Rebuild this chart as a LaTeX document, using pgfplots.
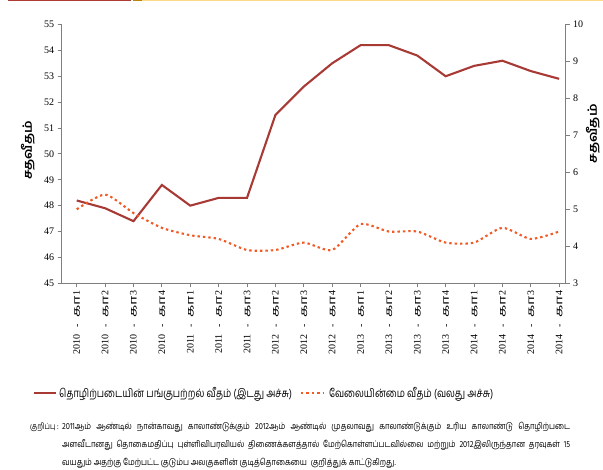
\documentclass[border=0pt]{standalone}
\usepackage{pgfplots}
\pgfplotsset{compat=1.18}
\usepackage{fontspec}
\setmainfont{Liberation Serif}
\newfontfamily\tam[Script=Tamil]{Hind Madurai}
\newfontfamily\tamc[Script=Tamil, FakeStretch=0.8]{Hind Madurai}
\newfontfamily\tamn[Script=Tamil, FakeStretch=0.84]{Hind Madurai}
\newfontfamily\tamw[Script=Tamil, FakeStretch=1.15]{Hind Madurai}
\newfontfamily\tamx[Script=Tamil, FakeStretch=1.6]{Hind Madurai}
\definecolor{lfpr}{HTML}{A83A36}
\definecolor{unemp}{HTML}{F15A24}
\definecolor{axgray}{HTML}{7F7F7F}
\definecolor{topred}{HTML}{B03A36}
\definecolor{topbrown}{HTML}{B8860B}
\definecolor{topyel}{HTML}{FDD98A}
\pgfplotstableread{
x y
0 48.2
1 47.9
2 47.4
3 48.8
4 48.0
5 48.3
6 48.3
7 51.5
8 52.6
9 53.5
10 54.2
11 54.2
12 53.8
13 53.0
14 53.4
15 53.6
16 53.2
17 52.9
}\lfprtable
\pgfplotstableread{
x y
0 5.0
1 5.4
2 4.9
3 4.5
4 4.3
5 4.2
6 3.9
7 3.9
8 4.1
9 3.9
10 4.6
11 4.4
12 4.4
13 4.1
14 4.1
15 4.5
16 4.2
17 4.4
}\unemptable
\newcommand{\ql}[2]{#1\ \ \,-\ \ \,{\tamx\fontsize{10}{11}\selectfont கா}#2}
\begin{document}
\begin{tikzpicture}
\useasboundingbox (0pt,0pt) rectangle (603pt,470pt);
\fill[topred] (8pt,469pt) rectangle (131pt,470pt);
\fill[topbrown] (133pt,469pt) rectangle (142pt,470pt);
\fill[topyel] (142pt,469pt) rectangle (603pt,470pt);
\pgfplotsset{
  common/.style={
    at={(61.7pt,186.7pt)}, anchor=south west,
    scale only axis, width=504pt, height=258.8pt,
    xmin=-0.53, xmax=17.23,
    tick align=outside,
    major tick length=4pt,
    axis line style={axgray, line width=0.8pt},
    tick style={axgray, line width=0.8pt},
    /pgf/number format/assume math mode=true,
    ticklabel style={font=\fontsize{10}{12}\selectfont, black},
  }
}
\begin{axis}[common,
  axis y line*=left, axis x line*=bottom,
  ymin=45, ymax=55, ytick={45,46,...,55},
  xtick={0,...,17},
  xticklabels={\ql{2010}{1},\ql{2010}{2},\ql{2010}{3},\ql{2010}{4},\ql{2011}{1},\ql{2011}{2},\ql{2011}{3},\ql{2012}{2},\ql{2012}{3},\ql{2012}{4},\ql{2013}{1},\ql{2013}{2},\ql{2013}{3},\ql{2013}{4},\ql{2014}{1},\ql{2014}{2},\ql{2014}{3},\ql{2014}{4}},
  xticklabel style={rotate=90, anchor=east, font=\fontsize{10}{11}\selectfont},
  ylabel={\tamw\bfseries சதவீதம்},
  ylabel style={at={(axis description cs:-0.067,0.514)}, anchor=center, font=\fontsize{12}{14}\selectfont},
]
\addplot[lfpr, line width=2.1pt] table[x=x,y=y] {\lfprtable};
\end{axis}
\begin{axis}[common,
  axis y line*=right, axis x line=none,
  ymin=3, ymax=10, ytick={3,4,...,10},
  ylabel={\tamw\bfseries சதவீதம்},
  ylabel style={at={(axis description cs:1.054,0.577)}, anchor=center, rotate=0, font=\fontsize{12}{14}\selectfont},
  legend columns=2,
  legend style={draw=none, fill=none, at={(axis description cs:-0.063,-0.424)}, anchor=west,
    font=\tamc\fontsize{11.5}{13}\selectfont,
    /tikz/every even column/.append style={column sep=6pt}},
  legend cell align=left,
  legend image code/.code={\draw[#1] (0pt,0pt) -- (22pt,0pt);},
]
\addlegendimage{lfpr, line width=2.1pt}
\addlegendentry{தொழிற்படையின் பங்குபற்றல் வீதம் (இடது அச்சு)}
\addplot[unemp, line width=2.1pt, dash pattern=on 2.4pt off 3pt, smooth, tension=0.4] table[x=x,y=y] {\unemptable};
\addlegendentry{\hspace{3pt}வேலையின்மை வீதம் (வலது அச்சு)}
\end{axis}
\node[anchor=west, font=\tamc\fontsize{8.5}{10}\selectfont, inner sep=0pt] at (30pt,43pt) {குறிப்பு :};
\node[anchor=west, font=\tamn\fontsize{9}{10}\selectfont, inner sep=0pt] at (62pt,43pt) {\makebox[508pt][s]{2011ஆம் ஆண்டில் நான்காவது காலாண்டுக்கும் 2012ஆம் ஆண்டில் முதலாவது காலாண்டுக்கும் உரிய காலாண்டு தொழிற்படை}};
\node[anchor=west, font=\tamn\fontsize{9}{10}\selectfont, inner sep=0pt] at (62pt,25pt) {\makebox[508pt][s]{அளவீடானது தொகைமதிப்பு புள்ளிவிபரவியல் திணைக்களத்தால் மேற்கொள்ளப்படவில்லை மற்றும் 2012இலிருந்தான தரவுகள் 15}};
\node[anchor=west, font=\tamn\fontsize{9}{10}\selectfont, inner sep=0pt] at (62pt,7pt) {வயதும் அதற்கு மேற்பட்ட குடும்ப அலகுகளின் குடித்தொகையை\ \ குறித்துக் காட்டுகிறது.};
\end{tikzpicture}
\end{document}
